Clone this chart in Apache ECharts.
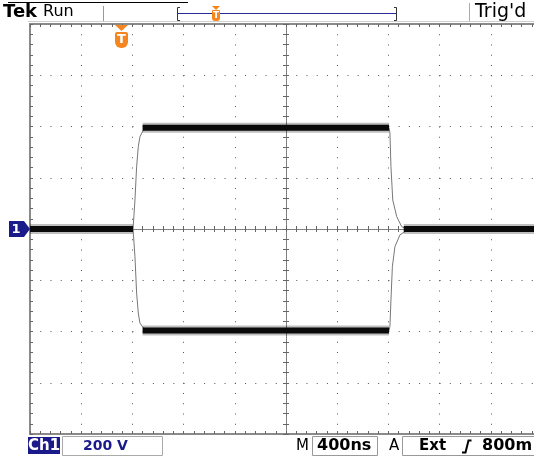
<!DOCTYPE html>
<html>
<head>
<meta charset="utf-8">
<script src="https://cdn.jsdelivr.net/npm/echarts@6/dist/echarts.min.js"></script>
<style>
html,body{margin:0;padding:0;background:#fff;}
#container{width:534px;height:457px;}
</style>
</head>
<body>
<div id="container"></div>
<script>
// time in ns (0 = screen centre), 400 ns/div ; volts, 200 V/div
var upperTime = [-2000, -1195, -1180, -1167, -1154, -1141, -1115, -1063, 805, 812, 820, 834, 865, 904, 943, 2000];
var upperVolt = [0, 0, 113, 243, 321, 360, 386, 395, 395, 375, 243, 113, 48, 9, 0, 0];
var lowerTime = [-2000, -1195, -1180, -1167, -1154, -1141, -1115, -1063, 805, 812, 820, 831, 851, 890, 943, 2000];
var lowerVolt = [0, 0, -108, -250, -328, -367, -386, -396, -396, -381, -277, -147, -69, -23, -6, 0];
// noisy (thick) parts of the trace
var bandStart = [-2000, -1120, -1120, 920];
var bandEnd = [-1195, 805, 805, 2000];
var bandVolt = [0, 395, -396, 0];

var chart = echarts.init(document.getElementById('container'));

function pairs(t, v) {
    var out = [];
    for (var i = 0; i < t.length; i++) out.push([t[i], v[i]]);
    return out;
}
var bandData = [];
for (var i = 0; i < bandStart.length; i++) {
    bandData.push([bandStart[i], bandVolt[i]], [bandEnd[i], bandVolt[i]], ['-', '-']);
}

var navy = '#1a1a8a';
var orange = '#f5851f';
var font = '"DejaVu Sans"';

function xAx(pos, onZero, dot) {
    return {
        type: 'value', min: -2000, max: 2000, interval: 400, position: pos,
        axisLine: onZero ? {onZero: true, onZeroAxisIndex: 0, lineStyle: {color: '#777', width: 1, type: [1, 1]}}
                         : {onZero: false, lineStyle: {color: '#8a8a8a', width: 2}},
        axisTick: {inside: true, length: 3, lineStyle: {color: '#666'}},
        minorTick: {show: true, splitNumber: 5, length: 3, lineStyle: {color: '#666'}},
        axisLabel: {show: false},
        splitLine: {show: !!dot, lineStyle: {color: '#555', width: 1, type: [1, 9.25]}}
    };
}
function yAx(pos, onZero, dot) {
    return {
        type: 'value', min: -800, max: 800, interval: 200, position: pos,
        axisLine: onZero ? {onZero: true, onZeroAxisIndex: 0, lineStyle: {color: '#777', width: 1, type: [1, 1]}}
                         : {onZero: false, lineStyle: {color: '#8a8a8a', width: 2}},
        axisTick: {inside: true, length: 3, lineStyle: {color: '#666'}},
        minorTick: {show: true, splitNumber: 5, length: 3, lineStyle: {color: '#666'}},
        axisLabel: {show: false},
        splitLine: {show: !!dot, lineStyle: {color: '#555', width: 1, type: [1, 9.24]}}
    };
}

function txt(x, y, s, f, color, align) {
    return {type: 'text', x: x, y: y, z: 110, silent: true,
        style: {text: s, font: f, fill: color || '#000', textAlign: align || 'left', textVerticalAlign: 'middle'}};
}

var option = {
    animation: false,
    backgroundColor: '#fff',
    grid: {left: 30, top: 24, width: 512, height: 410, outerBoundsMode: 'none', containLabel: false},
    xAxis: [xAx('bottom', false, true), xAx('top', false, false), xAx('bottom', true), xAx('top', true)],
    yAxis: [yAx('left', false, true), yAx('right', false, false), yAx('left', true), yAx('right', true)],
    series: [
        {type: 'line', data: pairs(upperTime, upperVolt), symbol: 'none', silent: true,
         lineStyle: {color: '#777', width: 1}},
        {type: 'line', data: pairs(lowerTime, lowerVolt), symbol: 'none', silent: true,
         lineStyle: {color: '#777', width: 1}},
        {type: 'line', data: bandData, symbol: 'none', silent: true, connectNulls: false,
         lineStyle: {color: 'rgba(0,0,0,0.25)', width: 10}},
        {type: 'line', data: bandData, symbol: 'none', silent: true, connectNulls: false,
         lineStyle: {color: '#0a0a0a', width: 6}}
    ],
    graphic: [
        // top status bar
        {type: 'line', shape: {x1: 8, y1: 2.5, x2: 188, y2: 2.5}, style: {stroke: '#000', lineWidth: 1}, silent: true},
        txt(3, 12, 'Tek', 'bold 18px ' + font),
        txt(43, 12, 'Run', '16px ' + font),
        {type: 'line', shape: {x1: 103.5, y1: 6, x2: 103.5, y2: 21}, style: {stroke: '#999'}, silent: true},
        {type: 'polyline', shape: {points: [[180, 7.5], [177.5, 7.5], [177.5, 20.5], [180, 20.5]]}, style: {stroke: '#333', fill: null}, silent: true},
        {type: 'line', shape: {x1: 178, y1: 13.5, x2: 396, y2: 13.5}, style: {stroke: '#2a2a9a', lineWidth: 1}, silent: true},
        {type: 'polyline', shape: {points: [[394, 7.5], [396.5, 7.5], [396.5, 20.5], [394, 20.5]]}, style: {stroke: '#333', fill: null}, silent: true},
        {type: 'polygon', z: 100, shape: {points: [[212, 6], [220, 6], [216, 10]]}, style: {fill: orange}, silent: true},
        {type: 'rect', z: 100, shape: {x: 212, y: 10, width: 8, height: 11, r: [1, 1, 3, 3]}, style: {fill: orange}, silent: true},
        txt(216, 15.5, 'T', 'bold 9px ' + font, '#fff', 'center'),
        {type: 'line', shape: {x1: 469.5, y1: 3, x2: 469.5, y2: 21}, style: {stroke: '#aaa'}, silent: true},
        txt(475, 12, "Trig'd", '19px ' + font),
        {type: 'line', shape: {x1: 28, y1: 21.5, x2: 534, y2: 21.5}, style: {stroke: '#cfcfcf'}, silent: true},
        // trigger position marker
        {type: 'polygon', z: 100, shape: {points: [[115, 25], [128, 25], [121.5, 31]]}, style: {fill: orange}, silent: true},
        {type: 'rect', z: 100, shape: {x: 115, y: 32, width: 13, height: 16, r: [2, 2, 6, 6]}, style: {fill: orange}, silent: true},
        txt(121.5, 40, 'T', 'bold 13px ' + font, '#fff', 'center'),
        // channel 1 ground marker
        {type: 'polygon', z: 100, shape: {points: [[9, 221], [24, 221], [30, 229], [24, 237], [9, 237]]}, style: {fill: navy}, silent: true},
        txt(16, 229.5, '1', 'bold 13px ' + font, '#fff', 'center'),
        // bottom readout
        {type: 'rect', z: 100, shape: {x: 28, y: 437, width: 32, height: 17}, style: {fill: navy}, silent: true},
        txt(44, 446, 'Ch1', 'bold 15px ' + font, '#fff', 'center'),
        {type: 'rect', shape: {x: 62.5, y: 436.5, width: 100, height: 19}, style: {stroke: '#aaa', fill: null}, silent: true},
        txt(83, 446, '200 V', 'bold 14px ' + font, navy),
        txt(296, 446, 'M', '15px ' + font),
        {type: 'rect', shape: {x: 312.5, y: 436.5, width: 65, height: 19}, style: {stroke: '#999', fill: null}, silent: true},
        txt(317, 446, '400ns', 'bold 16px ' + font),
        txt(389, 446, 'A', '15px ' + font),
        {type: 'rect', shape: {x: 402.5, y: 436.5, width: 140, height: 19}, style: {stroke: '#999', fill: null}, silent: true},
        txt(419, 446, 'Ext', 'bold 15px ' + font),
        {type: 'polyline', shape: {points: [[462, 452.5], [465.5, 452.5], [468.5, 440.5], [471.5, 440.5]]}, style: {stroke: '#000', lineWidth: 2, fill: null}, silent: true},
        txt(482, 446, '800m', 'bold 16px ' + font)
    ]
};

chart.setOption(option);
</script>
</body>
</html>
